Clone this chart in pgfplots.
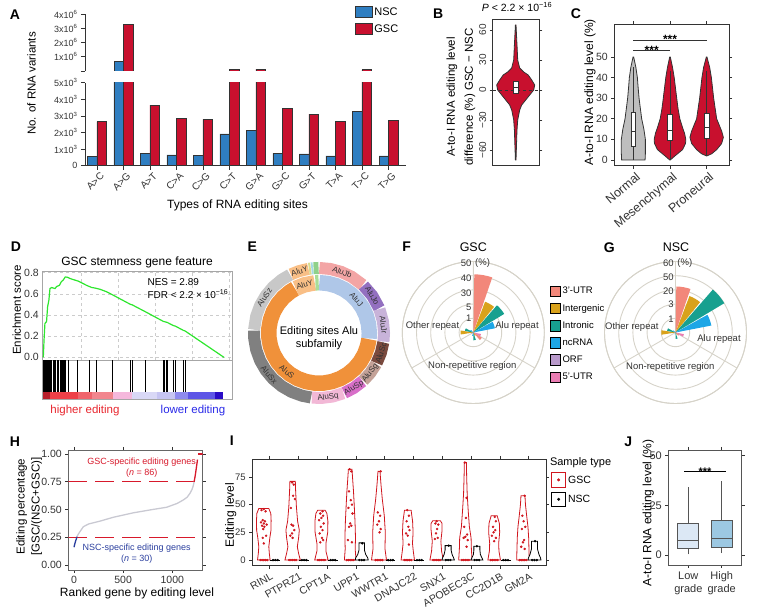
\documentclass[border=0pt]{standalone}
\usepackage{fontspec}
\setmainfont{Liberation Sans}
\usepackage{pgfplots}
\usepackage{pgfplotstable}
\pgfplotsset{compat=1.18}
\usepgfplotslibrary{polar}

\definecolor{nscblue}{HTML}{2F7EC1}
\definecolor{gscred}{HTML}{C8102E}
\definecolor{dk}{HTML}{333333}
\definecolor{gridc}{HTML}{D6D3C9}
\definecolor{cutrA}{HTML}{F2877A}
\definecolor{cinter}{HTML}{D9A21B}
\definecolor{cintron}{HTML}{17A08F}
\definecolor{cnc}{HTML}{1DA6E6}
\definecolor{corf}{HTML}{B99ACB}
\definecolor{cutrB}{HTML}{EA7DB3}
\definecolor{esgreen}{HTML}{2EE62E}
\definecolor{hred}{HTML}{D7192B}
\definecolor{hblue}{HTML}{2B3F9E}
\definecolor{hgray}{HTML}{C9C9D2}
\definecolor{ired}{HTML}{D0161E}
\definecolor{jlow}{HTML}{DCE8F5}
\definecolor{jhigh}{HTML}{9CC8E2}
\definecolor{jbox}{HTML}{555555}
\definecolor{eJb}{HTML}{F3A5A5}
\definecolor{eJo}{HTML}{9370C0}
\definecolor{eJr}{HTML}{C8B3D9}
\definecolor{eSc}{HTML}{7A4A3E}
\definecolor{eSg}{HTML}{C4A298}
\definecolor{eSp}{HTML}{D86FC9}
\definecolor{eSq}{HTML}{F2B8D6}
\definecolor{eSx}{HTML}{808080}
\definecolor{eSz}{HTML}{C8C8C8}
\definecolor{eY}{HTML}{F9BF86}
\definecolor{eJ}{HTML}{AFC7E8}
\definecolor{eS}{HTML}{F0913A}
\definecolor{es1}{HTML}{DADB8C}
\definecolor{es2}{HTML}{A4D9E6}
\definecolor{es3}{HTML}{8FD18A}
\definecolor{es4}{HTML}{A8DE98}
\definecolor{cb1}{HTML}{B81E2A}
\definecolor{cb2}{HTML}{EE4048}
\definecolor{cb3}{HTML}{F0646C}
\definecolor{cb4}{HTML}{F2868E}
\definecolor{cb5}{HTML}{F5B8DC}
\definecolor{cb6}{HTML}{D9D8F6}
\definecolor{cb7}{HTML}{C6C4F2}
\definecolor{cb8}{HTML}{8E8AEE}
\definecolor{cb9}{HTML}{5E56E6}
\definecolor{cb10}{HTML}{2A0CC6}
\definecolor{hiRed}{HTML}{E8262E}
\definecolor{loBlue}{HTML}{2A2AE8}
\definecolor{cgray}{HTML}{BEBEBE}

\newcommand\fs[1]{\fontsize{#1}{#1}\selectfont}

% violin polygon: #1 table (y, signed half-width w in px), #2 centre, #3 px per unit, #4 fill, #5 draw
\newcommand\vio[5]{%
  \addplot[fill=#4, draw=#5, line width=0.8pt, forget plot] table[x expr={#2+\thisrow{w}/#3}, y=y] {#1} -- cycle;
}

\pgfplotstableread[row sep=\\]{y w\\ -70 0.3\\ -55 0.8\\ -40 1.3\\ -30 2\\ -25 3\\ -20 4\\ -15 6\\ -10 10\\ -5 14\\ 0 18\\ 5 19\\ 10 16\\ 15 12.5\\ 18 8\\ 22 4\\ 30 2\\ 45 1.3\\ 65 0.3\\ 65 -0.3\\ 45 -1.3\\ 30 -2\\ 22 -4\\ 18 -8\\ 15 -12.5\\ 10 -16\\ 5 -19\\ 0 -18\\ -5 -14\\ -10 -10\\ -15 -6\\ -20 -4\\ -25 -3\\ -30 -2\\ -40 -1.3\\ -55 -0.8\\ -70 -0.3\\}\vB
\pgfplotstableread[row sep=\\]{y w\\ 0 11.7\\ 3 12\\ 7 12\\ 10 12\\ 15 10.5\\ 20 8.3\\ 25 7\\ 30 5.7\\ 35 4.8\\ 40 4\\ 45 2.5\\ 50 0.3\\ 50 -0.3\\ 45 -2.5\\ 40 -4\\ 35 -4.8\\ 30 -5.7\\ 25 -7\\ 20 -8.3\\ 15 -10.5\\ 10 -12\\ 7 -12\\ 3 -12\\ 0 -11.7\\}\vCn
\pgfplotstableread[row sep=\\]{y w\\ 0 0.3\\ 2 5\\ 5 12.5\\ 8 15.5\\ 10 15.8\\ 13 14.5\\ 15 13\\ 20 9.8\\ 25 8\\ 30 6.7\\ 40 4.2\\ 45 2.5\\ 50 0.3\\ 50 -0.3\\ 45 -2.5\\ 40 -4.2\\ 30 -6.7\\ 25 -8\\ 20 -9.8\\ 15 -13\\ 13 -14.5\\ 10 -15.8\\ 8 -15.5\\ 5 -12.5\\ 2 -5\\ 0 -0.3\\}\vCm
\pgfplotstableread[row sep=\\]{y w\\ 2 0.3\\ 3 5\\ 5 10\\ 8 15\\ 11 16.7\\ 14 15\\ 17 12.5\\ 20 10\\ 25 8.5\\ 30 7\\ 40 4.7\\ 45 3\\ 50 0.3\\ 50 -0.3\\ 45 -3\\ 40 -4.7\\ 30 -7\\ 25 -8.5\\ 20 -10\\ 17 -12.5\\ 14 -15\\ 11 -16.7\\ 8 -15\\ 5 -10\\ 3 -5\\ 2 -0.3\\}\vCp
\pgfplotstableread[row sep=\\]{y w\\ 0 6.3\\ 6 5.5\\ 12 5\\ 20 6\\ 27 7.2\\ 36 7.3\\ 42 7\\ 46.5 5\\ 46.5 -5\\ 42 -7\\ 36 -7.3\\ 27 -7.2\\ 20 -6\\ 12 -5\\ 6 -5.5\\ 0 -6.3\\}\vIa
\pgfplotstableread[row sep=\\]{y w\\ 0 7.7\\ 6 6\\ 12 4.7\\ 20 6\\ 27 6.7\\ 35 5\\ 48 3.8\\ 63 3\\ 71 2.7\\ 71 -2.7\\ 63 -3\\ 48 -3.8\\ 35 -5\\ 27 -6.7\\ 20 -6\\ 12 -4.7\\ 6 -6\\ 0 -7.7\\}\vIb
\pgfplotstableread[row sep=\\]{y w\\ 0 6.7\\ 8 4.5\\ 15 4.5\\ 25 6.3\\ 35 6.5\\ 42 5.5\\ 45 3.7\\ 45 -3.7\\ 42 -5.5\\ 35 -6.5\\ 25 -6.3\\ 15 -4.5\\ 8 -4.5\\ 0 -6.7\\}\vIc
\pgfplotstableread[row sep=\\]{y w\\ 0 5.8\\ 10 5\\ 20 5.3\\ 35 4.8\\ 50 4\\ 62 3.3\\ 75 2.3\\ 82 1.8\\ 82 -1.8\\ 75 -2.3\\ 62 -3.3\\ 50 -4\\ 35 -4.8\\ 20 -5.3\\ 10 -5\\ 0 -5.8\\}\vId
\pgfplotstableread[row sep=\\]{y w\\ 0 7.5\\ 10 6\\ 25 6.3\\ 40 5.3\\ 55 3.3\\ 68 2\\ 80 1\\ 80 -1\\ 68 -2\\ 55 -3.3\\ 40 -5.3\\ 25 -6.3\\ 10 -6\\ 0 -7.5\\}\vIe
\pgfplotstableread[row sep=\\]{y w\\ 0 6.7\\ 8 5.5\\ 15 4.7\\ 25 5.3\\ 35 4.8\\ 45 3.3\\ 45 -3.3\\ 35 -4.8\\ 25 -5.3\\ 15 -4.7\\ 8 -5.5\\ 0 -6.7\\}\vIf
\pgfplotstableread[row sep=\\]{y w\\ 0 6.7\\ 8 5\\ 17 4.3\\ 27 5.5\\ 33 5.5\\ 35.5 3.8\\ 35.5 -3.8\\ 33 -5.5\\ 27 -5.5\\ 17 -4.3\\ 8 -5\\ 0 -6.7\\}\vIg
\pgfplotstableread[row sep=\\]{y w\\ 0 6.7\\ 10 6\\ 20 5.7\\ 30 4\\ 45 2.8\\ 60 1.8\\ 75 1.3\\ 88 1\\ 88 -1\\ 75 -1.3\\ 60 -1.8\\ 45 -2.8\\ 30 -4\\ 20 -5.7\\ 10 -6\\ 0 -6.7\\}\vIh
\pgfplotstableread[row sep=\\]{y w\\ 0 6.3\\ 8 4.8\\ 15 4.5\\ 25 5.5\\ 33 5.2\\ 40 3\\ 40 -3\\ 33 -5.2\\ 25 -5.5\\ 15 -4.5\\ 8 -4.8\\ 0 -6.3\\}\vIi
\pgfplotstableread[row sep=\\]{y w\\ 0 6.3\\ 10 6\\ 20 5.7\\ 30 5\\ 40 3.7\\ 50 2.5\\ 58 2\\ 58 -2\\ 50 -2.5\\ 40 -3.7\\ 30 -5\\ 20 -5.7\\ 10 -6\\ 0 -6.3\\}\vIj
\pgfplotstableread[row sep=\\]{y w\\ 0 6.5\\ 2 6\\ 5 4\\ 9 2.7\\ 13 2.7\\ 15.5 2.7\\ 15.5 -2.7\\ 13 -2.7\\ 9 -2.7\\ 5 -4\\ 2 -6\\ 0 -6.5\\}\vNd
\pgfplotstableread[row sep=\\]{y w\\ 0 6.3\\ 2 5.5\\ 5 4\\ 9 3\\ 13 3\\ 13 -3\\ 9 -3\\ 5 -4\\ 2 -5.5\\ 0 -6.3\\}\vNg
\pgfplotstableread[row sep=\\]{y w\\ 0 6\\ 2 5\\ 5 3.5\\ 9 3\\ 12.5 3\\ 12.5 -3\\ 9 -3\\ 5 -3.5\\ 2 -5\\ 0 -6\\}\vNh
\pgfplotstableread[row sep=\\]{y w\\ 0 6.5\\ 2 6\\ 5 4.5\\ 10 3\\ 17 3\\ 17 -3\\ 10 -3\\ 5 -4.5\\ 2 -6\\ 0 -6.5\\}\vNj

\pgfplotsset{every axis/.append style={scale only axis,
  /pgf/number format/assume math mode=true,
  tick label style={font=\fs{10}, text=dk},
  tick style={dk, line width=0.6pt}, tick align=outside, major tick length=3pt},
  rosegrid/.style={ymin=0, ymax=5, xtick={90,210,330}, ytick={1,2,3,4,5},
    xticklabel=\empty, yticklabel=\empty, grid=major,
    separate axis lines, y axis line style={draw=none},
    grid style={gridc, line width=0.9pt}, x axis line style={gridc, line width=0.9pt}, major tick length=0pt}}

\begin{document}
\begin{tikzpicture}[x=1pt, y=1pt]
\path[use as bounding box] (0,0) rectangle (764,612);

%================= A lower
\begin{axis}[at={(85pt,446.3pt)}, anchor=south west, width=321pt, height=83pt,
  xmin=-0.45, xmax=11.66, ymin=0, ymax=5000,
  restrict y to domain*=0:5300,
  axis x line*=bottom, axis y line*=left, axis line style={dk, line width=0.8pt},
  ybar, bar width=9.5pt, major tick length=4pt, scaled y ticks=false,
  ytick={0,1000,2000,3000,4000,5000},
  yticklabels={0,1x10\textsuperscript{3},2x10\textsuperscript{3},3x10\textsuperscript{3},4x10\textsuperscript{3},5x10\textsuperscript{3}},
  xtick={0,...,11}, xticklabels={A>C,A>G,A>T,C>A,C>G,C>T,G>A,G>C,G>T,T>A,T>C,T>G},
  xticklabel style={rotate=45, anchor=north east, font=\fs{10}, xshift=4pt},
  yticklabel style={font=\fs{9}}]
\addplot[fill=nscblue, draw=dk, line width=0.6pt, bar shift=-4.75pt] coordinates {(0,540) (1,700000) (2,745) (3,645) (4,600) (5,1910) (6,2110) (7,745) (8,705) (9,585) (10,3250) (11,585)};
\addplot[fill=gscred, draw=dk, line width=0.6pt, bar shift=4.75pt] coordinates {(0,2650) (1,3300000) (2,3650) (3,2855) (4,2795) (5,90000) (6,120000) (7,3460) (8,3110) (9,2650) (10,80000) (11,2750)};
\end{axis}
%================= A upper
\begin{axis}[at={(85pt,541.1pt)}, anchor=south west, width=321pt, height=56.6pt,
  xmin=-0.45, xmax=11.66, ymin=0, ymax=4000000,
  axis y line*=left, axis x line=none, axis line style={dk, line width=0.8pt},
  ybar, bar width=9.5pt, xtick=\empty, major tick length=4pt, scaled y ticks=false,
  ytick={0,1000000,2000000,3000000,4000000},
  yticklabels={,1x10\textsuperscript{6},2x10\textsuperscript{6},3x10\textsuperscript{6},4x10\textsuperscript{6}},
  yticklabel style={font=\fs{9}},
  legend style={at={(0.84,1.16)}, anchor=north west, draw=none, fill=none, font=\fs{11}, row sep=4pt, inner sep=0pt},
  legend cell align=left,
  legend image code/.code={\draw[#1, bar shift=0pt] (0pt,-5pt) rectangle (17pt,6pt);}]
\addplot[fill=nscblue, draw=dk, line width=0.6pt, bar shift=-4.75pt] coordinates {(1,700000)};
\addplot[fill=gscred, draw=dk, line width=0.6pt, bar shift=4.75pt] coordinates {(1,3300000) (5,90000) (6,120000) (10,80000)};
\legend{NSC,GSC}
\end{axis}

%================= B
\begin{axis}[at={(492.7pt,446.3pt)}, anchor=south west, width=46.6pt, height=146.7pt,
  xmin=-23, xmax=23.6, ymin=-75.7, ymax=71,
  axis line style={dk, line width=0.8pt}, xtick=\empty,
  ytick={-60,-30,0,30,60}, yticklabels={−60,−30,0,30,60},
  yticklabel style={rotate=90, anchor=south, font=\fs{10}}]
\vio{\vB}{0}{1}{gscred}{dk}
\addplot[dk, dashed, line width=0.8pt] coordinates {(-23,0) (23.6,0)};
\addplot[fill=white, draw=dk, line width=0.8pt] coordinates {(-2.5,-3) (2.5,-3) (2.5,9) (-2.5,9)} -- cycle;
\addplot[dk, line width=1pt] coordinates {(-2.5,2) (2.5,2)};
\end{axis}

%================= C
\begin{axis}[at={(614.3pt,446.3pt)}, anchor=south west, width=114.7pt, height=141.7pt,
  xmin=0.48, xmax=3.61, ymin=-2.77, ymax=66,
  axis line style={dk, line width=0.8pt},
  ytick={0,10,20,30,40,50}, xtick={1,2,3}, xticklabels={Normal,Mesenchymal,Proneural},
  xticklabel style={rotate=40, anchor=north east, font=\fs{12.5}, xshift=3pt},
  yticklabel style={font=\fs{10.5}}]
\vio{\vCn}{1}{36.6}{cgray}{dk}
\vio{\vCm}{2}{36.6}{gscred}{dk}
\vio{\vCp}{3}{36.6}{gscred}{dk}
\addplot[dk, line width=0.8pt] coordinates {(1,0) (1,45)};
\addplot[dk, line width=0.8pt] coordinates {(2,0) (2,43)};
\addplot[dk, line width=0.8pt] coordinates {(3,2) (3,43)};
\addplot[fill=white, draw=dk, line width=0.7pt] coordinates {(0.937,6.8) (1.063,6.8) (1.063,23.1) (0.937,23.1)} -- cycle;
\addplot[fill=white, draw=dk, line width=0.7pt] coordinates {(1.937,9.4) (2.063,9.4) (2.063,22.1) (1.937,22.1)} -- cycle;
\addplot[fill=white, draw=dk, line width=0.7pt] coordinates {(2.937,10.5) (3.063,10.5) (3.063,22.6) (2.937,22.6)} -- cycle;
\addplot[dk, line width=1pt] coordinates {(0.937,13.7) (1.063,13.7)};
\addplot[dk, line width=1pt] coordinates {(1.937,14.5) (2.063,14.5)};
\addplot[dk, line width=1pt] coordinates {(2.937,15.8) (3.063,15.8)};
\addplot[dk, line width=0.8pt] coordinates {(1,53) (2,53)};
\addplot[dk, line width=0.8pt] coordinates {(1,57.9) (3,57.9)};
\node[anchor=base, font=\fs{12}\bfseries] at (axis cs:1.5,51) {***};
\node[anchor=base, font=\fs{12}\bfseries] at (axis cs:2,56.4) {***};
\end{axis}

%================= D ES
\begin{axis}[at={(42.3pt,252pt)}, anchor=south west, width=190pt, height=89pt,
  xmin=-0.0055, xmax=1.046, ymin=-0.025, ymax=0.816,
  axis line style={gray!70, line width=0.7pt},
  xtick={0.21,0.415,0.62,0.825,1.03}, xticklabel=\empty,
  ytick={0,0.2,0.4,0.6,0.8}, yticklabels={0.0,0.2,0.4,0.6,0.8},
  grid=major, grid style={gray!40, dashed, line width=0.5pt}, major tick length=0pt,
  yticklabel style={font=\fs{10.5}}]
\addplot[esgreen, line width=1.2pt] coordinates {(0,0) (0.004,0.16) (0.009,0.32) (0.018,0.337) (0.024,0.48) (0.031,0.54) (0.037,0.65) (0.046,0.66) (0.055,0.655) (0.065,0.65) (0.074,0.67) (0.089,0.68) (0.1,0.715) (0.11,0.73) (0.122,0.76) (0.135,0.756) (0.148,0.745) (0.175,0.73) (0.194,0.72) (0.24,0.68) (0.268,0.66) (0.286,0.655) (0.314,0.643) (0.35,0.62) (0.384,0.59) (0.483,0.5) (0.491,0.497) (0.566,0.43) (0.664,0.34) (0.686,0.33) (0.72,0.3) (0.731,0.295) (0.775,0.255) (0.784,0.25) (1,0)};
\end{axis}
%================= D hits + colour bar
\begin{axis}[at={(42.3pt,212.7pt)}, anchor=south west, width=190pt, height=39.3pt,
  xmin=-0.0055, xmax=1.046, ymin=-0.24, ymax=1,
  axis line style={gray!70, line width=0.7pt}, xtick=\empty, ytick=\empty]
\addplot[fill=cb1, draw=none] coordinates {(0,-0.24) (0.037,-0.24) (0.037,0) (0,0)} -- cycle;
\addplot[fill=cb2, draw=none] coordinates {(0.037,-0.24) (0.194,-0.24) (0.194,0) (0.037,0)} -- cycle;
\addplot[fill=cb3, draw=none] coordinates {(0.194,-0.24) (0.268,-0.24) (0.268,0) (0.194,0)} -- cycle;
\addplot[fill=cb4, draw=none] coordinates {(0.268,-0.24) (0.388,-0.24) (0.388,0) (0.268,0)} -- cycle;
\addplot[fill=cb5, draw=none] coordinates {(0.388,-0.24) (0.489,-0.24) (0.489,0) (0.388,0)} -- cycle;
\addplot[fill=cb6, draw=none] coordinates {(0.489,-0.24) (0.63,-0.24) (0.63,0) (0.489,0)} -- cycle;
\addplot[fill=cb7, draw=none] coordinates {(0.63,-0.24) (0.729,-0.24) (0.729,0) (0.63,0)} -- cycle;
\addplot[fill=cb8, draw=none] coordinates {(0.729,-0.24) (0.803,-0.24) (0.803,0) (0.729,0)} -- cycle;
\addplot[fill=cb9, draw=none] coordinates {(0.803,-0.24) (0.951,-0.24) (0.951,0) (0.803,0)} -- cycle;
\addplot[fill=cb10, draw=none] coordinates {(0.951,-0.24) (0.997,-0.24) (0.997,0) (0.951,0)} -- cycle;
\addplot[ycomb, black, line width=0.5pt] coordinates {(0.002,1) (0.006,1) (0.009,1) (0.013,1) (0.017,1) (0.02,1) (0.024,1) (0.028,1) (0.031,1) (0.035,1) (0.039,1) (0.042,1) (0.055,1) (0.061,1) (0.068,1) (0.077,1) (0.085,1) (0.092,1) (0.098,1) (0.103,1) (0.111,1) (0.116,1) (0.122,1) (0.138,1) (0.188,1) (0.255,1) (0.295,1) (0.384,1) (0.483,1) (0.491,1) (0.566,1) (0.664,1) (0.672,1) (0.679,1) (0.686,1) (0.72,1) (0.731,1) (0.775,1) (0.784,1)};
\end{axis}

%================= E donut
\begin{polaraxis}[at={(319pt,279pt)}, anchor=center, width=144pt, height=144pt, ymin=0, ymax=72, hide axis, clip=false]
\addplot[eJb, line width=12pt] coordinates {(89.6,65) (80,65) (70,65) (60,65) (47.7,65)};
\addplot[eJo, line width=12pt] coordinates {(46.9,65) (35,65) (22.4,65)};
\addplot[eJr, line width=12pt] coordinates {(21.6,65) (10,65) (0,65) (-7.6,65)};
\addplot[eSc, line width=12pt] coordinates {(-8.4,65) (-18,65) (-27.6,65)};
\addplot[eSg, line width=12pt] coordinates {(-28.4,65) (-38,65) (-47.2,65)};
\addplot[eSp, line width=12pt] coordinates {(-48,65) (-58,65) (-67.1,65)};
\addplot[eSq, line width=12pt] coordinates {(-67.9,65) (-78,65) (-88,65) (-96.3,65)};
\addplot[eSx, line width=12pt] coordinates {(-97.1,65) (-105,65) (-115,65) (-125,65) (-135,65) (-145,65) (-155,65) (-165,65) (-175,65) (-182.1,65)};
\addplot[eSz, line width=12pt] coordinates {(-182.9,65) (-195,65) (-205,65) (-215,65) (-225,65) (-235,65) (-243.6,65)};
\addplot[eY, line width=12pt] coordinates {(-244.4,65) (-252,65) (-260.6,65)};
\addplot[es1, line width=12pt] coordinates {(-261,65) (-262.8,65)};
\addplot[es2, line width=12pt] coordinates {(-263.2,65) (-264.8,65)};
\addplot[es3, line width=12pt] coordinates {(-265.2,65) (-269.6,65)};
\addplot[eJ, line width=15.5pt] coordinates {(89.6,50.3) (80,50.3) (70,50.3) (60,50.3) (50,50.3) (40,50.3) (30,50.3) (20,50.3) (10,50.3) (0,50.3) (-6.3,50.3)};
\addplot[eS, line width=15.5pt] coordinates {(-7.1,50.3) (-15,50.3) (-25,50.3) (-35,50.3) (-45,50.3) (-55,50.3) (-65,50.3) (-75,50.3) (-85,50.3) (-95,50.3) (-105,50.3) (-115,50.3) (-125,50.3) (-135,50.3) (-145,50.3) (-155,50.3) (-165,50.3) (-175,50.3) (-185,50.3) (-195,50.3) (-205,50.3) (-215,50.3) (-225,50.3) (-235,50.3) (-241.6,50.3)};
\addplot[eY, line width=15.5pt] coordinates {(-242.4,50.3) (-253,50.3) (-265.1,50.3)};
\addplot[es4, line width=15.5pt] coordinates {(-265.9,50.3) (-269.6,50.3)};
\end{polaraxis}

%================= F rose
\begin{polaraxis}[at={(473.3pt,279.5pt)}, anchor=center, width=142pt, height=142pt, rosegrid]
\addplot[fill=cutrA, draw=none] coordinates {(0,0) (89,4.1) (84.5,4.1) (80,4.1) (75.5,4.1) (71,4.1)} -- cycle;
\addplot[fill=cinter, draw=none] coordinates {(0,0) (69,2.32) (64.5,2.32) (60,2.32) (55.5,2.32) (51,2.32)} -- cycle;
\addplot[fill=cintron, draw=none] coordinates {(0,0) (49,2.54) (44.5,2.54) (40,2.54) (35.5,2.54) (31,2.54)} -- cycle;
\addplot[fill=cnc, draw=none] coordinates {(0,0) (29,1.55) (24.5,1.55) (20,1.55) (15.5,1.55) (11,1.55)} -- cycle;
\addplot[fill=corf, draw=none] coordinates {(0,0) (9,0.08) (-9,0.08)} -- cycle;
\addplot[fill=cutrB, draw=none] coordinates {(0,0) (-11,0.55) (-20,0.55) (-29,0.55)} -- cycle;
\addplot[fill=cutrA, draw=none] coordinates {(0,0) (-31,0.7) (-40,0.7) (-49,0.7)} -- cycle;
\addplot[fill=cinter, draw=none] coordinates {(0,0) (-51,0.25) (-69,0.25)} -- cycle;
\addplot[fill=cintron, draw=none] coordinates {(0,0) (-71,0.55) (-80,0.55) (-89,0.55)} -- cycle;
\addplot[fill=cnc, draw=none] coordinates {(0,0) (-91,0.25) (-109,0.25)} -- cycle;
\addplot[fill=cutrB, draw=none] coordinates {(0,0) (-131,0.1) (-149,0.1)} -- cycle;
\addplot[fill=cutrA, draw=none] coordinates {(0,0) (-151,0.15) (-169,0.15)} -- cycle;
\addplot[fill=cinter, draw=none] coordinates {(0,0) (-171,0.9) (-180,0.9) (-189,0.9)} -- cycle;
\addplot[fill=cintron, draw=none] coordinates {(0,0) (-191,0.6) (-200,0.6) (-209,0.6)} -- cycle;
\addplot[fill=cnc, draw=none] coordinates {(0,0) (-211,0.25) (-229,0.25)} -- cycle;
\end{polaraxis}

%================= G rose
\begin{polaraxis}[at={(675.5pt,279.5pt)}, anchor=center, width=142pt, height=142pt, rosegrid]
\addplot[fill=cutrA, draw=none] coordinates {(0,0) (89,3.24) (84.5,3.24) (80,3.24) (75.5,3.24) (71,3.24)} -- cycle;
\addplot[fill=cinter, draw=none] coordinates {(0,0) (69,2.75) (64.5,2.75) (60,2.75) (55.5,2.75) (51,2.75)} -- cycle;
\addplot[fill=cintron, draw=none] coordinates {(0,0) (49,4.01) (44.5,4.01) (40,4.01) (35.5,4.01) (31,4.01)} -- cycle;
\addplot[fill=cnc, draw=none] coordinates {(0,0) (29,2.57) (24.5,2.57) (20,2.57) (15.5,2.57) (11,2.57)} -- cycle;
\addplot[fill=corf, draw=none] coordinates {(0,0) (9,0.08) (-9,0.08)} -- cycle;
\addplot[fill=cutrB, draw=none] coordinates {(0,0) (-11,0.6) (-20,0.6) (-29,0.6)} -- cycle;
\addplot[fill=cutrA, draw=none] coordinates {(0,0) (-31,0.3) (-49,0.3)} -- cycle;
\addplot[fill=cinter, draw=none] coordinates {(0,0) (-51,0.15) (-69,0.15)} -- cycle;
\addplot[fill=cintron, draw=none] coordinates {(0,0) (-71,0.45) (-80,0.45) (-89,0.45)} -- cycle;
\addplot[fill=cnc, draw=none] coordinates {(0,0) (-91,0.15) (-109,0.15)} -- cycle;
\addplot[fill=cutrA, draw=none] coordinates {(0,0) (-151,0.1) (-169,0.1)} -- cycle;
\addplot[fill=cinter, draw=none] coordinates {(0,0) (-171,1.0) (-180,1.0) (-189,1.0)} -- cycle;
\addplot[fill=cintron, draw=none] coordinates {(0,0) (-191,0.6) (-200,0.6) (-209,0.6)} -- cycle;
\addplot[fill=cnc, draw=none] coordinates {(0,0) (-211,0.2) (-229,0.2)} -- cycle;
\end{polaraxis}

%================= F/G legend
\begin{axis}[hide axis, at={(550pt,327pt)}, anchor=north west, width=10pt, height=10pt,
  xmin=0, xmax=1, ymin=0, ymax=1,
  legend style={at={(0,1)}, anchor=north west, draw=none, fill=none, inner sep=0pt, row sep=5pt, font=\fs{9.5}},
  legend cell align=left,
  legend image code/.code={\fill[#1] (0pt,-5pt) rectangle (10pt,5.5pt);}]
\addlegendimage{fill=cutrA}\addlegendentry{3’-UTR}
\addlegendimage{fill=cinter}\addlegendentry{Intergenic}
\addlegendimage{fill=cintron}\addlegendentry{Intronic}
\addlegendimage{fill=cnc}\addlegendentry{ncRNA}
\addlegendimage{fill=corf}\addlegendentry{ORF}
\addlegendimage{fill=cutrB}\addlegendentry{5’-UTR}
\end{axis}

%================= H
\begin{axis}[at={(68.3pt,42pt)}, anchor=south west, width=134.4pt, height=120pt,
  xmin=-58, xmax=1309, ymin=-0.045, ymax=1.036,
  axis line style={gray!80!black, line width=0.9pt},
  ytick={0,0.25,0.5,0.75,1}, yticklabels={0.00,0.25,0.50,0.75,1.00},
  xtick={0,500,1000}, xticklabels={0,500,1000}, tick label style={font=\fs{10.5}}]
\addplot[hred, line width=1.2pt, dash pattern=on 19pt off 8pt] coordinates {(-58,0.75) (1309,0.75)};
\addplot[hred, line width=1.2pt, dash pattern=on 19pt off 8pt] coordinates {(-58,0.25) (1309,0.25)};
\addplot[hgray, line width=1.3pt] coordinates {(30,0.255) (45,0.28) (60,0.30) (95,0.345) (150,0.37) (264,0.395) (400,0.43) (603,0.47) (800,0.50) (942,0.52) (1050,0.555) (1112,0.586) (1150,0.61) (1180,0.646) (1200,0.68) (1215,0.72) (1222,0.75)};
\addplot[hblue, line width=1.3pt] coordinates {(0,0.16) (8,0.19) (16,0.215) (24,0.235) (30,0.255)};
\addplot[hred, line width=1.3pt] coordinates {(1222,0.75) (1232,0.80) (1242,0.86) (1250,0.91) (1256,0.95)};
\addplot[hred, line width=1.3pt] coordinates {(1263,1.0) (1309,1.0)};
\end{axis}

%================= I
\begin{axis}[at={(252.3pt,46.3pt)}, anchor=south west, width=293.7pt, height=106.7pt,
  xmin=0.4, xmax=10.6, ymin=-5.1, ymax=91.2,
  axis line style={dk, line width=0.9pt},
  ytick={0,25,50,75}, xtick={1,...,10},
  xticklabels={RINL,PTPRZ1,CPT1A,UPP1,WWTR1,DNAJC22,SNX1,APOBEC3C,CC2D1B,GM2A},
  xticklabel style={rotate=30, anchor=north east, font=\fs{10.5}, xshift=2pt},
  yticklabel style={font=\fs{9.5}},
  legend style={at={(1.017,0.878)}, anchor=north west, draw=none, fill=none, font=\fs{10.5}, row sep=4pt, inner sep=0pt},
  legend cell align=left,
  legend image code/.code={\draw[#1, line width=0.9pt] (0pt,-7pt) rectangle (14pt,7.5pt); \fill[#1] (7pt,0.25pt) circle (1.3pt);}]
\vio{\vIa}{0.8}{28.8}{white}{ired}
\vio{\vIb}{1.8}{28.8}{white}{ired}
\vio{\vIc}{2.8}{28.8}{white}{ired}
\vio{\vId}{3.8}{28.8}{white}{ired}
\vio{\vIe}{4.8}{28.8}{white}{ired}
\vio{\vIf}{5.8}{28.8}{white}{ired}
\vio{\vIg}{6.8}{28.8}{white}{ired}
\vio{\vIh}{7.8}{28.8}{white}{ired}
\vio{\vIi}{8.8}{28.8}{white}{ired}
\vio{\vIj}{9.8}{28.8}{white}{ired}
\vio{\vNd}{4.2}{28.8}{white}{black}
\vio{\vNg}{7.2}{28.8}{white}{black}
\vio{\vNh}{8.2}{28.8}{white}{black}
\vio{\vNj}{10.2}{28.8}{white}{black}
\addplot[black, line width=0.9pt, forget plot] coordinates {(1.03,0) (1.37,0)};
\addplot[black, line width=0.9pt, forget plot] coordinates {(2.03,0) (2.37,0)};
\addplot[black, line width=0.9pt, forget plot] coordinates {(3.03,0) (3.37,0)};
\addplot[black, line width=0.9pt, forget plot] coordinates {(5.03,0) (5.37,0)};
\addplot[black, line width=0.9pt, forget plot] coordinates {(6.03,0) (6.37,0)};
\addplot[black, line width=0.9pt, forget plot] coordinates {(9.03,0) (9.37,0)};
\addplot[only marks, mark=*, mark size=1pt, ired, forget plot] coordinates {
(0.8,46) (0.72,45) (0.86,44) (0.76,36) (0.84,35) (0.7,34) (0.8,33) (0.9,32) (0.74,31) (0.82,30) (0.78,28) (0.88,22) (0.76,20) (0.8,15)
(1.78,70) (1.84,68) (1.82,58) (1.88,55) (1.74,47) (1.76,32) (1.82,31) (1.86,27) (1.78,24) (1.72,22) (1.8,20)
(2.84,44) (2.76,42) (2.86,40) (2.8,38) (2.72,36) (2.88,33) (2.78,30) (2.84,27) (2.74,24) (2.82,20) (2.86,18) (2.76,16)
(3.78,82) (3.84,80) (3.76,62) (3.82,54) (3.86,50) (3.74,47) (3.88,42) (3.8,33) (3.84,31) (3.76,30) (3.72,18) (3.86,16)
(4.86,80) (4.76,43) (4.84,40) (4.8,35) (4.74,32) (4.86,28) (4.82,25)
(5.78,45) (5.84,40) (5.76,35) (5.82,30) (5.86,27) (5.74,24) (5.8,22) (5.84,14)
(6.8,35) (6.76,33) (6.86,32) (6.82,28) (6.78,24) (6.84,20) (6.74,19)
(7.78,88) (7.84,56) (7.82,38) (7.76,30) (7.86,23) (7.8,21) (7.74,20) (7.88,18) (7.84,12)
(8.82,39) (8.86,35) (8.76,30) (8.84,27) (8.78,25) (8.72,22) (8.86,20) (8.8,17)
(9.86,58) (9.78,40) (9.82,35) (9.88,30) (9.76,28) (9.84,18) (9.8,16) (9.74,12) (9.86,10)
(0.68,0) (0.74,0) (0.8,0) (0.86,0) (0.92,0) (1.68,0) (1.74,0) (1.8,0) (1.86,0) (1.92,0)
(2.68,0) (2.74,0) (2.8,0) (2.86,0) (2.92,0) (3.68,0) (3.74,0) (3.8,0) (3.86,0) (3.92,0)
(4.68,0) (4.74,0) (4.8,0) (4.86,0) (4.92,0) (5.68,0) (5.74,0) (5.8,0) (5.86,0) (5.92,0)
(6.68,0) (6.74,0) (6.8,0) (6.86,0) (6.92,0) (7.68,0) (7.74,0) (7.8,0) (7.86,0) (7.92,0)
(8.68,0) (8.74,0) (8.8,0) (8.86,0) (8.92,0) (9.68,0) (9.74,0) (9.8,0) (9.86,0) (9.92,0)};
\addplot[only marks, mark=*, mark size=1pt, black, forget plot] coordinates {
(1.12,0) (1.2,0) (1.28,0) (2.12,0) (2.2,0) (2.28,0) (3.12,0) (3.2,0) (3.28,0) (4.12,0) (4.2,0) (4.28,0) (4.22,15)
(5.12,0) (5.2,0) (5.28,0) (6.12,0) (6.2,0) (6.28,0) (7.12,0) (7.2,0) (7.28,0) (7.22,13)
(8.12,0) (8.2,0) (8.28,0) (8.2,12.5) (9.12,0) (9.2,0) (9.28,0) (10.12,0) (10.2,0) (10.28,0) (10.22,17)};
\addlegendimage{ired}\addlegendentry{GSC}
\addlegendimage{black}\addlegendentry{NSC}
\end{axis}

%================= J
\begin{axis}[at={(668.3pt,47pt)}, anchor=south west, width=73.4pt, height=115pt,
  xmin=0.4, xmax=2.6, ymin=-5.03, ymax=52.8,
  axis line style={jbox, line width=0.9pt},
  ytick={0,25,50}, xtick={1,2}, xticklabels={Low\\grade,High\\grade},
  xticklabel style={align=center, font=\fontsize{11}{13}\selectfont}, yticklabel style={font=\fs{11}}]
\addplot[jbox, line width=0.9pt] coordinates {(1,0.3) (1,34.4)};
\addplot[jbox, line width=0.9pt] coordinates {(2,1) (2,37.4)};
\addplot[fill=jlow, draw=jbox, line width=0.9pt] coordinates {(0.685,3.4) (1.315,3.4) (1.315,15.9) (0.685,15.9)} -- cycle;
\addplot[fill=jhigh, draw=jbox, line width=0.9pt] coordinates {(1.685,4) (2.315,4) (2.315,17.4) (1.685,17.4)} -- cycle;
\addplot[jbox, line width=1.1pt] coordinates {(0.685,7.2) (1.315,7.2)};
\addplot[jbox, line width=1.1pt] coordinates {(1.685,8.4) (2.315,8.4)};
\addplot[black, line width=0.9pt] coordinates {(0.88,41.8) (2.12,41.8)};
\end{axis}

%================= text
\begin{scope}[every node/.style={text=black}]
\node[font=\fs{14}\bfseries] at (15,597) {A};
\node[font=\fs{14}\bfseries] at (438.3,598.7) {B};
\node[font=\fs{14}\bfseries] at (576,598.7) {C};
\node[font=\fs{14}\bfseries] at (16,365.3) {D};
\node[font=\fs{14}\bfseries] at (252.3,365.3) {E};
\node[font=\fs{14}\bfseries] at (406.7,365.3) {F};
\node[font=\fs{14}\bfseries] at (609.3,364.3) {G};
\node[font=\fs{14}\bfseries] at (15,170.3) {H};
\node[font=\fs{14}\bfseries] at (231.7,171.3) {I};
\node[font=\fs{14}\bfseries] at (628.3,170.3) {J};

\node[rotate=90, font=\fs{11.5}] at (31.5,528.5) {No. of RNA variants};
\node[font=\fs{12}] at (237.5,407) {Types of RNA editing sites};

\node[font=\fs{10.5}] at (517,605) {\textit{P} < 2.2 × 10\textsuperscript{−16}};
\node[rotate=90, font=\fs{11.5}] at (452,515) {A-to-I RNA editing level};
\node[rotate=90, font=\fs{11.5}] at (470,515) {difference (\%) GSC − NSC};

\node[rotate=90, font=\fs{12}] at (590,519.5) {A-to-I RNA editing level (\%)};

\node[font=\fs{12}] at (137,350) {GSC stemness gene feature};
\node[rotate=90, font=\fs{11.5}] at (16.7,302) {Enrichment score};
\node[anchor=west, font=\fs{10}] at (144,330.3) {NES = 2.89};
\node[anchor=west, font=\fs{10}] at (144,317.7) {FDR < 2.2 × 10\textsuperscript{−16}};
\node[font=\fs{11.5}, text=hiRed] at (85,201.3) {higher editing};
\node[font=\fs{11.5}, text=loBlue] at (193,201.3) {lower editing};

\node[font=\fs{11}] at (319,280.3) {Editing sites Alu};
\node[font=\fs{11}] at (319,267.7) {subfamily};
\begin{scope}[shift={(319,279)}, every node/.style={font=\fs{8}, text=dk, inner sep=0pt}]
\node[rotate=-21] at (69:65) {AluJb};
\node[rotate=-60] at (35:65) {AluJo};
\node[rotate=-83] at (7:65) {AluJr};
\node[rotate=72] at (-18:65) {AluSc};
\node[rotate=52] at (-38:65) {AluSg};
\node[rotate=32] at (-57.5:65) {AluSp};
\node[rotate=8] at (-82:65) {AluSq};
\node[rotate=-50] at (-140:65) {AluSx};
\node[rotate=57] at (147:65) {AluSz};
\node[rotate=17] at (107.5:65) {AluY};
\node[rotate=-48] at (42:50.3) {AluJ};
\node[rotate=-40] at (-129.7:50.3) {AluS};
\node[rotate=16] at (106.6:50.3) {AluY};
\end{scope}

\node[font=\fs{12.5}] at (473.3,364.3) {GSC};
\node[font=\fs{12.5}] at (676,364.3) {NSC};
\begin{scope}[every node/.style={font=\fs{9.5}, text=dk, inner sep=1pt}]
\node[anchor=east] at (472.6,293.7) {1};
\node[anchor=east] at (472.6,304.3) {5};
\node[anchor=east] at (472.6,318.7) {30};
\node[anchor=east] at (472.6,333.7) {40};
\node[anchor=east] at (472.6,348.7) {50};
\node[anchor=west] at (474,348.7) {(\%)};
\node[anchor=east] at (674.8,293) {1};
\node[anchor=east] at (674.8,308) {3};
\node[anchor=east] at (674.8,320.3) {20};
\node[anchor=east] at (674.8,334.7) {50};
\node[anchor=east] at (674.8,348.7) {60};
\node[anchor=west] at (676.2,348.7) {(\%)};
\node at (432.5,286.3) {Other repeat};
\node at (517,286.3) {Alu repeat};
\node at (472.3,246) {Non-repetitive region};
\node at (631.8,284.7) {Other repeat};
\node at (719,272.7) {Alu repeat};
\node at (670.3,245.3) {Non-repetitive region};
\end{scope}

\node[rotate=90, font=\fs{11.5}] at (21.7,105.3) {Editing percentage};
\node[rotate=90, font=\fs{11.5}] at (36.7,105.3) {[GSC/(NSC+GSC)]};
\node[font=\fs{12}] at (137,18.7) {Ranked gene by editing level};
\node[font=\fs{9}, text=hred] at (141.7,149.7) {GSC-specific editing genes};
\node[font=\fs{9}, text=hred] at (141.7,138.7) {(\textit{n} = 86)};
\node[font=\fs{9}, text=hblue] at (136.7,63.7) {NSC-specific editing genes};
\node[font=\fs{9}, text=hblue] at (136.7,52.7) {(\textit{n} = 30)};

\node[rotate=90, font=\fs{12}] at (230.7,97) {Editing level};
\node[anchor=west, font=\fs{11}] at (546.5,149.3) {Sample type};

\node[rotate=90, font=\fs{12}] at (648.3,99.3) {A-to-I RNA editing level (\%)};
\node[anchor=base, font=\fs{11}\bfseries] at (705,136) {***};
\end{scope}
\end{tikzpicture}
\end{document}
